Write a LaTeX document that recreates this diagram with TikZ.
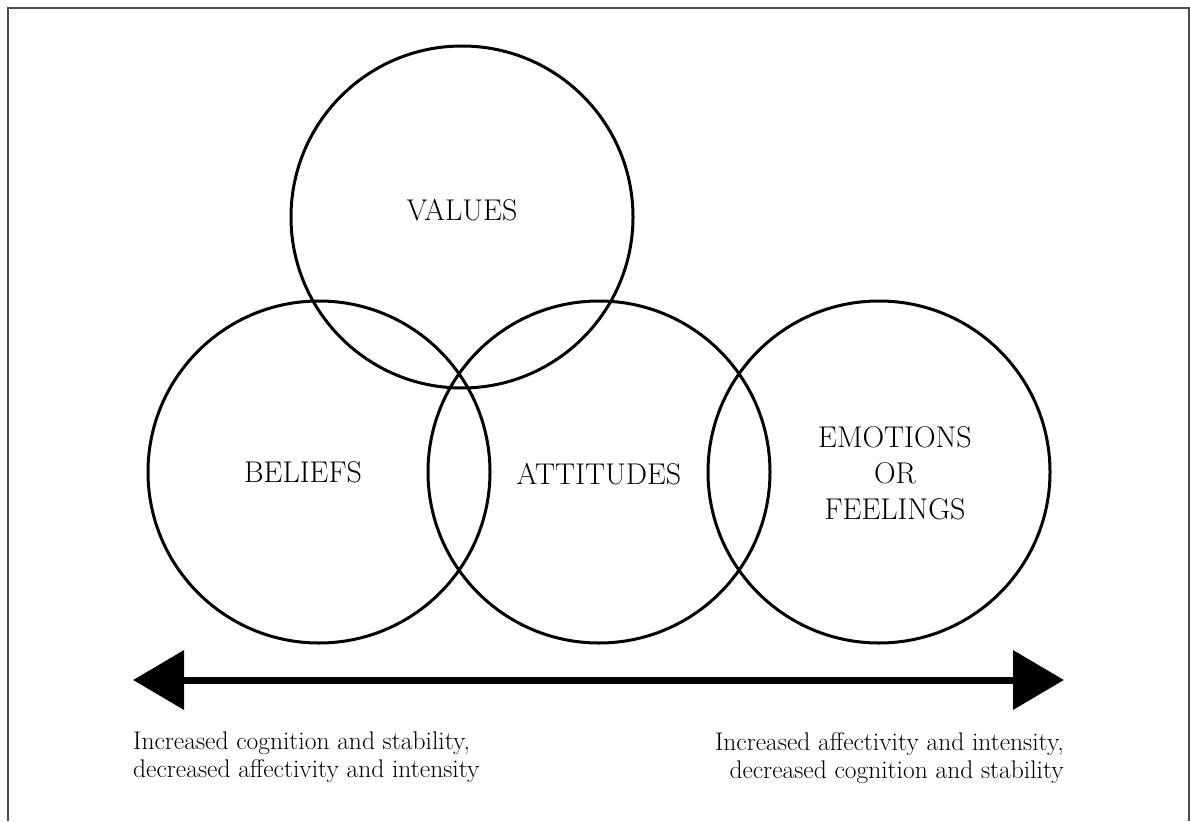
\documentclass[tikz,border=0pt]{standalone}
\usetikzlibrary{arrows.meta}
\begin{document}
\begin{tikzpicture}[
        x=1pt, y=-1pt,
        blob/.style = {circle, draw, line width=3pt, minimum size=342pt, inner sep=0pt},
        tag/.style = {font=\fontsize{30}{36}\selectfont, align=center, inner sep=0pt},
        note/.style = {font=\fontsize{25.5}{28}\selectfont, inner sep=0pt},
        axis/.style = {line width=7pt, {Triangle[length=51pt,width=58pt]}-{Triangle[length=51pt,width=58pt]}}
    ]
        \useasboundingbox (0,0) rectangle (1190,821);
        \draw[line width=2pt, black!70] (8,821) -- (8,8) -- (1189,8) -- (1189,821);
        % circles
        \node[blob] (values) at (462,217) {};
        \node[blob] (beliefs) at (319,472) {};
        \node[blob] (attitudes) at (599,472) {};
        \node[blob] (emotions) at (879,472) {};
        \node[tag] (valuestext) at ([yshift=7pt]values) {VALUES};
        \node[tag] (beliefstext) at ([xshift=-16pt]beliefs) {BELIEFS};
        \node[tag] (attitudestext) at ([yshift=-2pt]attitudes) {ATTITUDES};
        \node[tag] (emotionstext) at ([xshift=16pt,yshift=-1pt]emotions) {EMOTIONS\\ OR\\ FEELINGS};
        % scale
        \coordinate (lowend) at (133,680);
        \coordinate (highend) at (1064,680);
        \draw[axis] (lowend) -- (highend);
        \node[note, anchor=north west, align=left] (lownote) at (133,732)
            {Increased cognition and stability,\\ decreased affectivity and intensity};
        \node[note, anchor=north east, align=right] (highnote) at (1064,732)
            {Increased affectivity and intensity,\\ decreased cognition and stability};
    \end{tikzpicture}
\end{document}
